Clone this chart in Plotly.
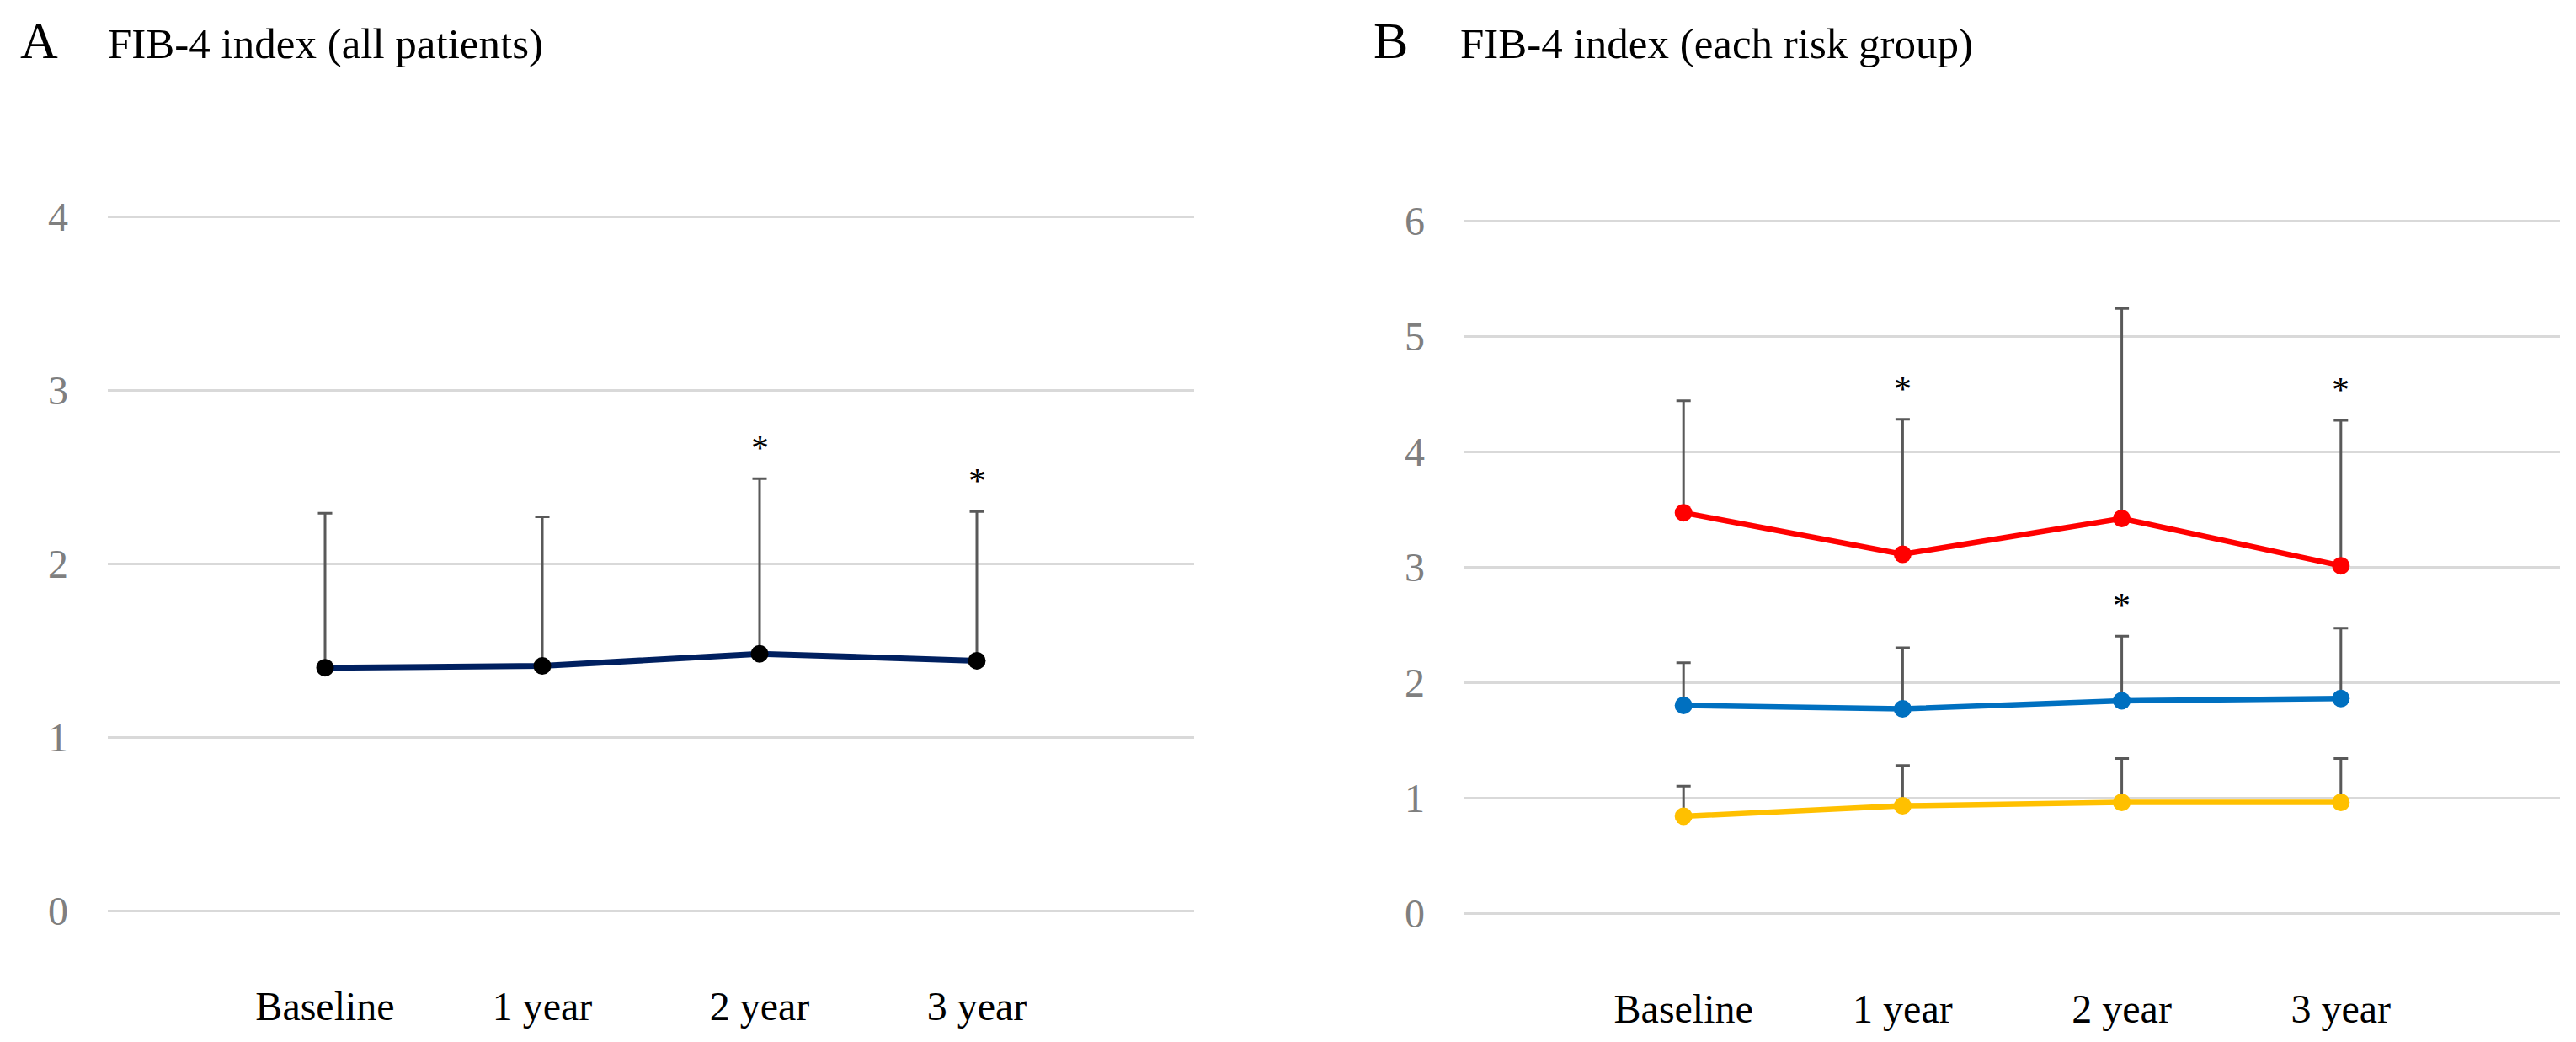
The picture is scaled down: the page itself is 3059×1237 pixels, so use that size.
import plotly.graph_objects as go

categories = ["Baseline", "1 year", "2 year", "3 year"]

# Panel A: all patients
all_mean = [1.40, 1.41, 1.48, 1.44]
all_upper = [2.29, 2.27, 2.49, 2.30]
all_sig = [False, False, True, True]

# Panel B: each risk group
high_mean = [3.47, 3.11, 3.42, 3.01]
high_upper = [4.44, 4.28, 5.24, 4.27]
high_sig = [False, True, False, True]

mid_mean = [1.80, 1.77, 1.84, 1.86]
mid_upper = [2.17, 2.30, 2.40, 2.47]
mid_sig = [False, False, True, False]

low_mean = [0.84, 0.93, 0.96, 0.96]
low_upper = [1.10, 1.28, 1.34, 1.34]
low_sig = [False, False, False, False]

FONT = "Liberation Serif"
W, H = 3059, 1237

fig = go.Figure()


def add_series(mean, upper, line_color, marker_color, xa, ya, lw):
    fig.add_trace(go.Scatter(
        x=categories, y=mean, mode="lines+markers",
        line=dict(color=line_color, width=lw),
        marker=dict(color=marker_color, size=21),
        error_y=dict(type="data", symmetric=False,
                     array=[u - m for u, m in zip(upper, mean)],
                     arrayminus=[0] * len(mean),
                     color="#595959", thickness=3, width=8.5),
        xaxis=xa, yaxis=ya, showlegend=False, hoverinfo="skip"))


def add_stars(upper, sig, xref, yref):
    for c, u, s in zip(categories, upper, sig):
        if s:
            fig.add_annotation(x=c, y=u, xref=xref, yref=yref, text="*",
                               showarrow=False, yanchor="middle", yshift=36,
                               font=dict(family=FONT, size=42, color="black"))


add_series(all_mean, all_upper, "#002060", "#000000", "x", "y", 7)
add_stars(all_upper, all_sig, "x", "y")

add_series(high_mean, high_upper, "#FF0000", "#FF0000", "x2", "y2", 6.5)
add_series(mid_mean, mid_upper, "#0070C0", "#0070C0", "x2", "y2", 6.5)
add_series(low_mean, low_upper, "#FFC000", "#FFC000", "x2", "y2", 6.5)
add_stars(high_upper, high_sig, "x2", "y2")
add_stars(mid_upper, mid_sig, "x2", "y2")

xcommon = dict(type="category", categoryorder="array", categoryarray=categories,
               range=[-1, 4], showgrid=False, zeroline=False, showline=False,
               ticks="", ticklabelstandoff=81, automargin=False,
               tickfont=dict(family=FONT, size=48, color="black"))
ycommon = dict(showgrid=True, gridcolor="#D9D9D9", gridwidth=3,
               zeroline=True, zerolinecolor="#D9D9D9", zerolinewidth=3,
               showline=False, ticks="", dtick=1, ticklabelstandoff=46,
               automargin=False,
               tickfont=dict(family=FONT, size=48, color="#7F7F7F"))

fig.update_layout(
    width=W, height=H,
    margin=dict(l=0, r=0, t=0, b=0),
    paper_bgcolor="white", plot_bgcolor="white",
    font=dict(family=FONT),
    xaxis=dict(xcommon, domain=[120 / W, 1410 / W], anchor="y"),
    yaxis=dict(ycommon, domain=[1 - 1073 / H, 1 - 245 / H], range=[0, 4.02],
               tickvals=[0, 1, 2, 3, 4], anchor="x"),
    xaxis2=dict(xcommon, domain=[1731 / W, 3032 / W], anchor="y2"),
    yaxis2=dict(ycommon, domain=[1 - 1076 / H, 1 - 250 / H], range=[0, 6.03],
                tickvals=[0, 1, 2, 3, 4, 5, 6], anchor="x2"),
)

titles = [
    ("A", 14, 62), ("FIB-4 index (all patients)", 118, 51),
    ("B", 1621, 62), ("FIB-4 index (each risk group)", 1724, 51),
]
for txt, xp, fs in titles:
    bottom = 62 + 0.216 * fs + 1
    fig.add_annotation(x=xp / W, y=1 - bottom / H, xref="paper", yref="paper",
                       xanchor="left", yanchor="bottom", text=txt,
                       showarrow=False, font=dict(family=FONT, size=fs, color="black"))

fig.write_html("out.html")
